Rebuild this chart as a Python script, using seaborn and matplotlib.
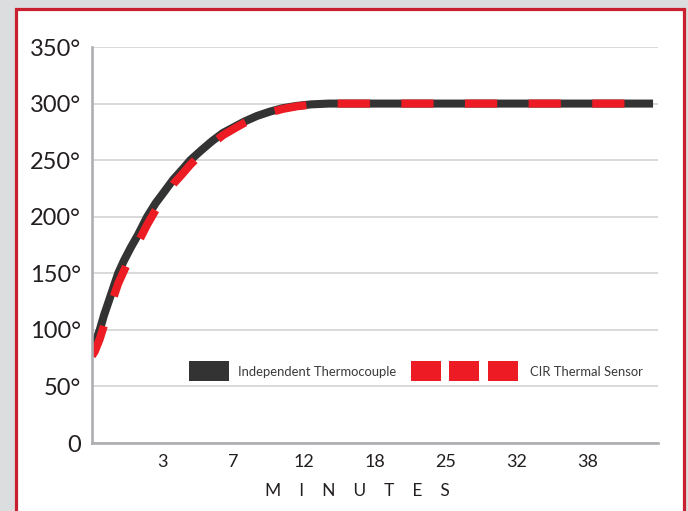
import matplotlib
matplotlib.use("Agg")
import matplotlib.pyplot as plt
import seaborn as sns
import pandas as pd
from matplotlib.patches import Rectangle
from matplotlib.legend_handler import HandlerBase

# ---- data (x = position along the evenly spaced minute axis) ----
x_tick_positions = [1, 2, 3, 4, 5, 6, 7, 8]
x_tick_labels = ["3", "7", "12", "18", "25", "32", "38", ""]
y_ticks = [0, 50, 100, 150, 200, 250, 300, 350]
y_tick_labels = ["0", "50°", "100°", "150°", "200°", "250°", "300°", "350°"]

positions = [0.00, 0.04, 0.11, 0.17, 0.23, 0.30, 0.37, 0.45, 0.55, 0.65,
             0.78, 0.90, 1.02, 1.15, 1.28, 1.39, 1.55, 1.70, 1.85, 2.00,
             2.15, 2.33, 2.52, 2.70, 2.90, 3.10, 3.35, 4.0, 5.0, 6.0, 7.0, 7.93]
thermocouple = [82, 88, 100, 113, 124, 137, 150, 161, 173, 184,
                200, 212, 222, 233, 242, 250, 259, 267, 274, 279,
                284, 289, 293, 296, 298, 299.3, 300, 300, 300, 300, 300, 300]
sensor = [77, 81, 92, 104, 115, 128, 141, 152, 166, 177,
          193, 206, 217, 229, 238, 246, 256, 264.5, 272, 277.5,
          282.8, 288, 292.3, 295.3, 297.6, 299, 300, 300, 300, 300, 300, 300]

series_names = ["Independent Thermocouple", "CIR Thermal Sensor"]
colors = {"Independent Thermocouple": "#323332", "CIR Thermal Sensor": "#ed1c24"}

df = pd.concat([
    pd.DataFrame({"position": positions, "temperature": thermocouple, "series": series_names[0]}),
    pd.DataFrame({"position": positions, "temperature": sensor, "series": series_names[1]}),
], ignore_index=True)

sns.set_theme(style="white")
plt.rcParams['font.family'] = ['Lato', 'DejaVu Sans']
plt.rcParams['lines.solid_capstyle'] = 'butt'
plt.rcParams['lines.dash_capstyle'] = 'butt'
plt.rcParams['lines.solid_joinstyle'] = 'round'
plt.rcParams['lines.dash_joinstyle'] = 'round'

W, H = 688, 511
fig = plt.figure(figsize=(W / 100, H / 100), dpi=100, facecolor="#dcdddf")
frame = Rectangle((16 / W, -0.05), (684 - 16) / W, (1 - 9 / H) + 0.05,
                  transform=fig.transFigure, facecolor="white",
                  edgecolor="#c8202f", linewidth=2.3, zorder=-5)
fig.add_artist(frame)

ax = fig.add_axes([92 / W, 1 - 443 / H, (658 - 92) / W, (443 - 47) / H])
ax.set_facecolor("white")

lw = 5.8
sns.lineplot(data=df, x="position", y="temperature", hue="series",
             hue_order=series_names, style="series", style_order=series_names,
             dashes={series_names[0]: "", series_names[1]: (4.0, 3.9)},
             palette=colors, linewidth=lw, estimator=None, sort=False,
             legend=False, ax=ax, zorder=3)

ax.set_xlim(0, 8)
ax.set_ylim(0, 350)
ax.set_xticks(x_tick_positions)
ax.set_xticklabels(x_tick_labels)
ax.set_yticks(y_ticks)
ax.set_yticklabels(y_tick_labels)

ax.grid(axis="y", color="#cfcfd1", linewidth=1.1, zorder=0)
ax.grid(axis="x", visible=False)
ax.set_axisbelow(True)

for s in ["top", "right"]:
    ax.spines[s].set_visible(False)
for s in ["left", "bottom"]:
    ax.spines[s].set_color("#aeaeb2")
    ax.spines[s].set_linewidth(1.9)
    ax.spines[s].set_zorder(4)

ax.tick_params(axis="x", direction="in", length=7, width=1.5, color="#aeaeb2",
               pad=8, labelsize=13, labelcolor="#231f20")
ax.tick_params(axis="y", length=0, pad=8, labelsize=17, labelcolor="#231f20")

ax.set_ylabel("")
ax.set_xlabel("M    I    N    U    T    E    S", fontsize=12.5, color="#231f20")
ax.xaxis.set_label_coords((357.5 - 92) / 566, (443 - 491) / 396)
ax.xaxis.label.set_va("center")


class BlockHandler(HandlerBase):
    def __init__(self, blocks, color, block_height):
        super().__init__()
        self.blocks = blocks
        self.color = color
        self.bh = block_height

    def create_artists(self, legend, orig_handle, xdescent, ydescent, width,
                       height, fontsize, trans):
        yc = height / 2 - ydescent
        arts = []
        for x0, w in self.blocks:
            arts.append(Rectangle((x0 - xdescent, yc - self.bh / 2), w, self.bh,
                                  facecolor=self.color, edgecolor="none",
                                  transform=trans))
        return arts


lines = ax.get_lines()
px = 0.72
handler_map = {
    lines[0]: BlockHandler([(70 * px, 40 * px)], colors[series_names[0]], 20 * px),
    lines[1]: BlockHandler([(0, 30 * px), (38 * px, 30 * px), (77 * px, 30 * px)],
                           colors[series_names[1]], 20 * px),
}
leg_fs = 9.4
ax.legend(handles=[lines[0], lines[1]], labels=series_names, handler_map=handler_map,
          ncol=2, frameon=False, fontsize=leg_fs,
          handlelength=110 * px / leg_fs, handletextpad=9 * px / leg_fs,
          columnspacing=15 * px / leg_fs, borderpad=0, borderaxespad=0,
          loc="center left", bbox_to_anchor=(119 / W, 1 - 371.5 / H),
          bbox_transform=fig.transFigure, labelcolor="#3a3a3a")

fig.savefig("out.png", dpi=100, facecolor=fig.get_facecolor())
